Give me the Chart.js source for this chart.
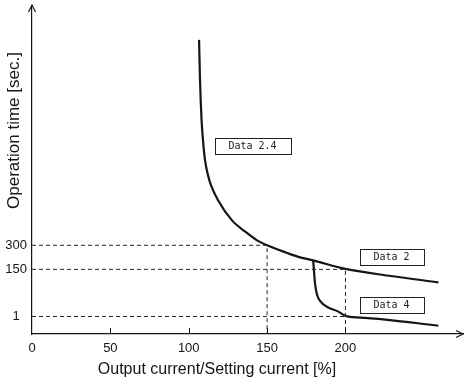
<!DOCTYPE html>
<html><head><meta charset="utf-8">
<script src="https://cdn.jsdelivr.net/npm/chart.js@4/dist/chart.umd.min.js"></script>
<style>html,body{margin:0;padding:0;background:#fff}#wrap{width:465px;height:392px;position:relative}</style>
</head><body><div id="wrap"><canvas id="c" width="465" height="392"></canvas></div>
<script>
// ---- data ----
const xTickValues = [0, 50, 100, 150, 200];
const yTickValues = [1, 150, 300];
const xTitle = 'Output current/Setting current [%]';
const yTitle = 'Operation time [sec.]';

const curve2X = [106.6, 107.2, 108.2, 109.1, 110.4, 112.3, 114.2, 118.7, 127.6, 135.9, 143.6, 150, 162, 171, 179.4, 200, 229, 259.3];
const curve2Y = [1579, 1329, 1079, 955, 830, 736, 674, 580, 455, 386, 331, 300, 255, 225, 206, 153, 129, 109];

const curve4X = [179.4, 180.7, 182.0, 183.9, 188.4, 194.8, 200, 209.4, 224, 259.3];
const curve4Y = [206, 100, 68, 49.5, 31, 18, 3, 0.94, 0.84, 0.47];

// dashed guide lines: (current, time) corners
const guide300X = [0, 150, 150];
const guide300Y = [300, 300, 0];
const guide150X = [0, 200, 200];
const guide150Y = [150, 150, 0];
const guide1X = [0, 200];
const guide1Y = [1, 1];

const boxLabels = ['Data 2.4', 'Data 2', 'Data 4'];
const boxX = [140.7, 229.4, 229.4];
const boxY = [920, 228, 37.5];

// ---- piecewise (schematic) time axis ----
class PiecewiseScale extends Chart.LinearScale {
  _br() { return this.options.breaks; }
  _fr() { return this.options.fractions; }
  _frac(v) {
    const b = this._br(), f = this._fr();
    if (v <= b[0]) return f[0];
    for (let i = 1; i < b.length; i++) {
      if (v <= b[i]) return f[i-1] + (v - b[i-1]) / (b[i] - b[i-1]) * (f[i] - f[i-1]);
    }
    const n = b.length - 1;
    return f[n] + (v - b[n]) / (b[n] - b[n-1]) * (f[n] - f[n-1]);
  }
  getPixelForValue(v) { return this.getPixelForDecimal(this._frac(v)); }
  getValueForPixel(p) {
    const d = this.getDecimalForPixel(p), b = this._br(), f = this._fr();
    for (let i = 1; i < b.length; i++) {
      if (d <= f[i]) return b[i-1] + (d - f[i-1]) / (f[i] - f[i-1]) * (b[i] - b[i-1]);
    }
    return b[b.length-1];
  }
}
PiecewiseScale.id = 'piecewise';
PiecewiseScale.defaults = {};
Chart.register(PiecewiseScale);

const pts = (xs, ys) => xs.map((x, i) => ({x, y: ys[i]}));
const INK = '#151515';
const FONT = '"Liberation Sans", Arial, Helvetica, sans-serif';

const guideStyle = {borderColor: '#262626', borderWidth: 1, borderDash: [4, 3], pointRadius: 0, fill: false, tension: 0};

const decor = {
  id: 'decor',
  afterDraw(chart) {
    const ctx = chart.ctx, xs = chart.scales.x, ys = chart.scales.y, ca = chart.chartArea;
    ctx.save();
    ctx.strokeStyle = INK; ctx.lineWidth = 1.2;
    // y arrow
    const ax = ca.left, top = ca.top - 1;
    ctx.beginPath(); ctx.moveTo(ax, ca.top); ctx.lineTo(ax, top); ctx.stroke();
    ctx.beginPath(); ctx.moveTo(ax - 3.5, top + 7); ctx.lineTo(ax, top); ctx.lineTo(ax + 3.5, top + 7); ctx.stroke();
    // x arrow
    const ay = ca.bottom, right = ca.right;
    ctx.beginPath(); ctx.moveTo(right - 7, ay - 3.5); ctx.lineTo(right, ay); ctx.lineTo(right - 7, ay + 3.5); ctx.stroke();
    // inward x tick marks
    ctx.lineWidth = 1;
    xTickValues.forEach(v => {
      if (v === 0) return;
      const px = Math.round(xs.getPixelForValue(v)) + 0.5;
      ctx.beginPath(); ctx.moveTo(px, ay); ctx.lineTo(px, ay - 6); ctx.stroke();
    });
    // label boxes
    ctx.font = '10px "DejaVu Sans Mono", monospace';
    ctx.textAlign = 'center'; ctx.textBaseline = 'middle';
    boxLabels.forEach((t, i) => {
      const cx = xs.getPixelForValue(boxX[i]), cy = ys.getPixelForValue(boxY[i]);
      const w = Math.round(ctx.measureText(t).width + 28), h = 16;
      const l = Math.round(cx - w / 2) + 0.5, tp = Math.round(cy - h / 2) + 0.5;
      ctx.fillStyle = '#fff'; ctx.fillRect(l, tp, w, h);
      ctx.strokeStyle = '#222'; ctx.lineWidth = 1; ctx.strokeRect(l, tp, w, h);
      ctx.fillStyle = '#222'; ctx.fillText(t, cx, cy + 0.5);
    });
    // axis titles
    ctx.fillStyle = INK;
    ctx.font = '16px ' + FONT;
    ctx.textAlign = 'center'; ctx.textBaseline = 'middle';
    ctx.fillText(xTitle, 217, 370);
    ctx.save();
    ctx.translate(14.5, 130.5); ctx.rotate(-Math.PI / 2);
    ctx.font = '17px ' + FONT;
    ctx.fillText(yTitle, 0, 0);
    ctx.restore();
    ctx.restore();
  }
};

new Chart(document.getElementById('c'), {
  type: 'line',
  data: {
    datasets: [
      Object.assign({label: '300 s guide', data: pts(guide300X, guide300Y)}, guideStyle),
      Object.assign({label: '150 s guide', data: pts(guide150X, guide150Y)}, guideStyle),
      Object.assign({label: '1 s guide', data: pts(guide1X, guide1Y)}, guideStyle),
      {label: 'Data 2', data: pts(curve2X, curve2Y), borderColor: INK, borderWidth: 2.2, pointRadius: 0, cubicInterpolationMode: 'monotone', fill: false},
      {label: 'Data 4', data: pts(curve4X, curve4Y), borderColor: INK, borderWidth: 2.2, pointRadius: 0, cubicInterpolationMode: 'monotone', fill: false}
    ]
  },
  options: {
    responsive: false,
    animation: false,
    devicePixelRatio: 1,
    layout: {padding: {top: 6, right: 2, left: 0, bottom: 0}},
    plugins: {legend: {display: false}, tooltip: {enabled: false}},
    scales: {
      x: {
        type: 'linear', min: 0, max: 275,
        afterFit: s => { s.height = 58; s.paddingLeft = 0; s.paddingRight = 0; },
        afterBuildTicks: s => { s.ticks = xTickValues.map(v => ({value: v})); },
        grid: {display: false, drawTicks: false},
        border: {display: true, color: INK, width: 1.2},
        ticks: {autoSkip: false, maxRotation: 0, padding: 7, color: INK, font: {family: FONT, size: 13}}
      },
      y: {
        type: 'piecewise', min: 0, max: 1790,
        breaks: [0, 1, 150, 1790],
        fractions: [0, 0.0534, 0.197, 1],
        afterFit: s => { s.width = 32; s.paddingTop = 0; s.paddingBottom = 0; },
        afterBuildTicks: s => { s.ticks = yTickValues.map(v => ({value: v})); },
        grid: {display: false, drawTicks: false},
        border: {display: true, color: INK, width: 1.2},
        ticks: {autoSkip: false, crossAlign: 'center', padding: 5, color: INK, font: {family: FONT, size: 13},
                callback: v => String(v)}
      }
    }
  },
  plugins: [decor]
});
</script>
</body></html>
